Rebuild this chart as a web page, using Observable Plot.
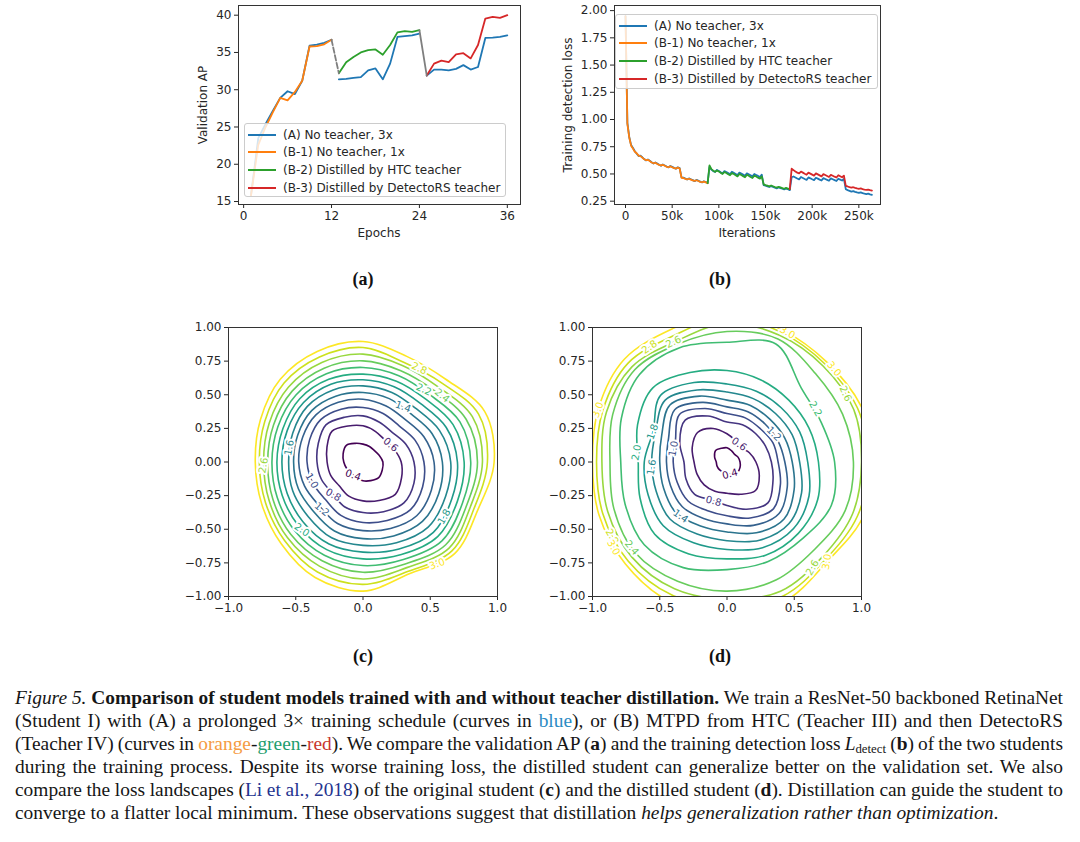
<!DOCTYPE html>
<html>
<head>
<meta charset="utf-8">
<script src="https://cdn.jsdelivr.net/npm/d3@7"></script>
<script src="https://cdn.jsdelivr.net/npm/@observablehq/plot@0.6"></script>
<style>
  html, body { margin: 0; padding: 0; background: #ffffff; }
  #page { position: relative; width: 1080px; height: 842px; overflow: hidden; background: #ffffff; }
  .panel { position: absolute; }
  .panel svg { display: block; }
  .axis-title { position: absolute; font: 12px "DejaVu Sans", sans-serif; color: #262626; white-space: nowrap; transform: translate(-50%, -50%); }
  .axis-title.vertical { transform: translate(-50%, -50%) rotate(-90deg); }
  .sub-label { position: absolute; font: bold 18px "Liberation Serif", serif; color: #111; transform: translate(-50%, -50%); white-space: nowrap; }
  .legend { position: absolute; box-sizing: border-box; border: 1px solid #cccccc; border-radius: 3px; background: rgba(255,255,255,0.8); }
  .legend .row { position: absolute; left: 0; height: 0; }
  .legend .swatch { position: absolute; left: 3px; width: 28px; height: 2px; top: -1px; }
  .legend .txt { position: absolute; left: 38px; top: -8px; font: 12px "DejaVu Sans", sans-serif; color: #262626; white-space: nowrap; line-height: 16px; }
  .caption { position: absolute; left: 15px; top: 686px; width: 1048px; font-family: "Liberation Serif", "Times New Roman", serif; font-size: 19.4px; line-height: 23px; color: #161616; }
  .cap-line { height: 23px; white-space: nowrap; }
  .cap-line > span { display: inline-block; white-space: nowrap; }
  .c-blue { color: #2b8cc4; } .c-orange { color: #f59b42; } .c-green { color: #1f9e6e; } .c-red { color: #c8362f; } .c-navy { color: #24338f; }
</style>
</head>
<body>
<div id="page">
  <div id="figA" class="panel" style="left:190px; top:0px; width:340px; height:250px"></div>
  <div id="figB" class="panel" style="left:560px; top:0px; width:330px; height:250px"></div>
  <div id="figC" class="panel" style="left:180px; top:300px; width:330px; height:330px"></div>
  <div id="figD" class="panel" style="left:544px; top:300px; width:330px; height:330px"></div>

  <div class="axis-title vertical" style="left:203px; top:104.5px">Validation AP</div>
  <div class="axis-title" style="left:379px; top:233px">Epochs</div>
  <div class="axis-title vertical" style="left:567.5px; top:104.5px">Training detection loss</div>
  <div class="axis-title" style="left:747px; top:233px">Iterations</div>

  <div id="legendA" class="legend" style="left:244px; top:123px; width:262px; height:74px"></div>
  <div id="legendB" class="legend" style="left:615px; top:14px; width:263px; height:75px"></div>

  <div class="sub-label" style="left:363px; top:279px">(a)</div>
  <div class="sub-label" style="left:720px; top:279px">(b)</div>
  <div class="sub-label" style="left:363px; top:656px">(c)</div>
  <div class="sub-label" style="left:720px; top:656px">(d)</div>

  <div class="caption">
    <div class="cap-line just"><span><i>Figure 5.</i> <b>Comparison of student models trained with and without teacher distillation.</b> We train a ResNet-50 backboned RetinaNet</span></div>
    <div class="cap-line just"><span>(Student I) with (A) a prolonged 3× training schedule (curves in <span class="c-blue">blue</span>), or (B) MTPD from HTC (Teacher III) and then DetectoRS</span></div>
    <div class="cap-line just"><span>(Teacher IV) (curves in <span class="c-orange">orange</span>-<span class="c-green">green</span>-<span class="c-red">red</span>). We compare the validation AP (<b>a</b>) and the training detection loss <i>L</i><sub style="font-size:0.66em; line-height:0; vertical-align:-0.22em">detect</sub> (<b>b</b>) of the two students</span></div>
    <div class="cap-line just"><span>during the training process. Despite its worse training loss, the distilled student can generalize better on the validation set. We also</span></div>
    <div class="cap-line just"><span>compare the loss landscapes (<span class="c-navy">Li et al., 2018</span>) of the original student (<b>c</b>) and the distilled student (<b>d</b>). Distillation can guide the student to</span></div>
    <div class="cap-line"><span>converge to a flatter local minimum. These observations suggest that distillation <i>helps generalization rather than optimization</i>.</span></div>
  </div>
</div>

<script>
// ---------------- (a) validation AP per epoch ----------------
const epochsAll = [1,2,3,4,5,6,7,8,9,10,11,12,13,14,15,16,17,18,19,20,21,22,23,24,25,26,27,28,29,30,31,32,33,34,35,36];
const epochsB1 = [1,2,3,4,5,6,7,8,9,10,11,12];
const epochsB2 = [13,14,15,16,17,18,19,20,21,22,23,24];
const epochsB3 = [25,26,27,28,29,30,31,32,33,34,35,36];
const apA  = [15.8,23.5,25.4,27.2,28.9,29.8,29.4,31.2,35.9,36.05,36.3,36.7,
              31.4,31.45,31.6,31.7,32.6,32.85,31.4,33.5,37.08,37.2,37.3,37.53,
              31.9,32.7,32.7,32.6,32.8,33.3,32.7,33.05,36.95,37.0,37.08,37.3];
const apB1 = [15.8,22.6,25.0,27.0,28.9,28.56,29.7,31.2,35.8,35.85,36.1,36.7];
const apB2 = [32.2,33.7,34.4,35.0,35.3,35.4,34.7,36.0,37.7,37.85,37.75,37.98];
const apB3 = [31.9,33.5,33.9,33.7,34.75,34.9,34.2,36.0,39.55,39.78,39.64,40.0];
const epochTicks = [0, 12, 24, 36];
const apTicks = [15, 20, 25, 30, 35, 40];

// ---------------- (b) training detection loss, logged every 2k iterations ----------------
const lossStepK = 2;
const lossStartK = {A: 0, B1: 0, B2: 88, B3: 176};
const lossA = [
  1.95,0.97,0.84,0.765,0.738,0.708,0.686,0.665,0.668,0.653,
  0.637,0.624,0.633,0.621,0.607,0.596,0.606,0.596,0.585,0.575,
  0.587,0.578,0.568,0.56,0.573,0.565,0.556,0.548,0.561,0.553,
  0.468,0.467,0.458,0.449,0.459,0.451,0.443,0.434,0.445,0.438,
  0.43,0.422,0.433,0.426,0.417,0.565,0.54,0.526,0.518,0.537,
  0.527,0.515,0.506,0.526,0.518,0.508,0.498,0.52,0.51,0.5,
  0.49,0.512,0.503,0.494,0.484,0.506,0.497,0.488,0.478,0.5,
  0.491,0.482,0.472,0.494,0.398,0.392,0.386,0.38,0.388,0.381,
  0.374,0.368,0.376,0.37,0.364,0.358,0.366,0.36,0.352,0.47,
  0.477,0.468,0.458,0.45,0.472,0.463,0.454,0.446,0.468,0.46,
  0.451,0.443,0.465,0.457,0.448,0.44,0.462,0.454,0.446,0.438,
  0.459,0.451,0.443,0.435,0.456,0.448,0.44,0.455,
  0.36,0.352,0.345,0.338,0.343,0.336,0.33,0.326,0.331,0.324,0.319,0.315,0.319,0.313,0.309];
const lossB1 = [
  1.95,0.96,0.835,0.76,0.733,0.704,0.69,0.668,0.664,0.65,
  0.635,0.627,0.63,0.618,0.605,0.598,0.603,0.592,0.583,0.578,
  0.584,0.575,0.566,0.562,0.57,0.562,0.553,0.55,0.558,0.55,
  0.465,0.463,0.455,0.451,0.456,0.448,0.44,0.436,0.442,0.435,
  0.428,0.424,0.43,0.423,0.415];
const lossB2 = [
  0.415,0.578,0.545,0.53,0.52,0.532,0.522,0.51,0.5,0.518,
  0.509,0.498,0.488,0.508,0.499,0.488,0.478,0.5,0.49,0.48,
  0.47,0.492,0.483,0.472,0.463,0.485,0.476,0.466,0.457,0.478,
  0.405,0.398,0.392,0.386,0.394,0.387,0.38,0.374,0.382,0.376,
  0.37,0.364,0.372,0.366,0.36];
const lossB3 = [
  0.36,0.548,0.535,0.522,0.512,0.505,0.522,0.512,0.502,0.493,
  0.512,0.503,0.494,0.485,0.505,0.496,0.487,0.478,0.498,0.49,
  0.481,0.472,0.492,0.484,0.475,0.467,0.488,0.479,0.47,0.485,
  0.39,0.385,0.379,0.374,0.378,0.372,0.367,0.364,0.367,0.361,
  0.357,0.354,0.356,0.351,0.347];
const iterTicksK = [0, 50, 100, 150, 200, 250];
const lossTicks = [0.25, 0.5, 0.75, 1.0, 1.25, 1.5, 1.75, 2.0];

// ---------------- (c)/(d) loss landscapes: contour radius per level along rays from the minimum ----------------
const contourLevels = [0.4,0.6,0.8,1.0,1.2,1.4,1.6,1.8,2.0,2.2,2.4,2.6,2.8,3.0];
const contourAngles = [0,22.5,45,67.5,90,112.5,135,157.5,180,202.5,225,247.5,270,292.5,315,337.5];
// rows: one per angle, columns: one per level
const radiiOriginal = [
  [0.148,0.284,0.379,0.453,0.528,0.59,0.652,0.702,0.752,0.801,0.851,0.888,0.925,0.975],
  [0.13,0.25,0.345,0.42,0.49,0.555,0.615,0.67,0.725,0.78,0.83,0.88,0.93,0.98],
  [0.12,0.23,0.31,0.38,0.445,0.505,0.56,0.61,0.66,0.705,0.75,0.79,0.83,0.87],
  [0.125,0.245,0.32,0.39,0.45,0.51,0.56,0.605,0.65,0.695,0.735,0.775,0.80,0.85],
  [0.133,0.269,0.343,0.405,0.467,0.517,0.566,0.611,0.653,0.703,0.752,0.802,0.851,0.896],
  [0.15,0.29,0.36,0.425,0.48,0.53,0.58,0.625,0.665,0.71,0.755,0.80,0.845,0.89],
  [0.175,0.325,0.39,0.445,0.495,0.54,0.585,0.625,0.665,0.705,0.745,0.785,0.83,0.87],
  [0.16,0.29,0.36,0.43,0.485,0.525,0.565,0.61,0.645,0.685,0.72,0.755,0.79,0.825],
  [0.143,0.267,0.342,0.416,0.478,0.516,0.553,0.603,0.64,0.677,0.709,0.739,0.771,0.801],
  [0.13,0.26,0.335,0.405,0.47,0.52,0.565,0.61,0.65,0.69,0.725,0.755,0.785,0.815],
  [0.12,0.25,0.325,0.395,0.46,0.52,0.575,0.63,0.675,0.72,0.76,0.795,0.825,0.86],
  [0.13,0.275,0.36,0.43,0.495,0.555,0.61,0.66,0.705,0.75,0.795,0.84,0.885,0.93],
  [0.14,0.289,0.376,0.45,0.51,0.57,0.62,0.67,0.72,0.77,0.82,0.87,0.91,0.96],
  [0.15,0.31,0.40,0.47,0.535,0.595,0.65,0.70,0.745,0.785,0.82,0.85,0.88,0.90],
  [0.165,0.34,0.43,0.50,0.565,0.625,0.685,0.74,0.785,0.83,0.87,0.905,0.935,0.963],
  [0.155,0.31,0.41,0.48,0.55,0.61,0.665,0.715,0.76,0.80,0.835,0.865,0.895,0.925]];
const radiiDistilled = [
  [0.097,0.215,0.33,0.38,0.43,0.485,0.54,0.60,0.68,0.80,0.94,1.0,1.05,1.1],
  [0.09,0.18,0.31,0.37,0.41,0.465,0.525,0.585,0.66,0.76,0.93,1.02,1.05,1.08],
  [0.08,0.15,0.30,0.35,0.40,0.45,0.51,0.57,0.65,0.78,0.93,1.01,1.03,1.05],
  [0.09,0.17,0.30,0.355,0.405,0.455,0.51,0.57,0.66,0.95,0.99,1.02,1.045,1.065],
  [0.106,0.21,0.297,0.36,0.41,0.46,0.52,0.58,0.68,0.89,0.97,1.03,1.08,1.12],
  [0.11,0.27,0.37,0.43,0.48,0.53,0.58,0.64,0.72,0.92,0.95,0.975,1.02,1.07],
  [0.12,0.31,0.44,0.50,0.55,0.60,0.65,0.70,0.78,0.92,0.97,1.0,1.04,1.08],
  [0.10,0.28,0.38,0.415,0.47,0.525,0.575,0.595,0.72,0.85,0.92,0.97,1.0,1.035],
  [0.08,0.245,0.32,0.40,0.45,0.50,0.56,0.615,0.66,0.79,0.87,0.93,0.97,1.0],
  [0.08,0.24,0.33,0.40,0.455,0.51,0.57,0.635,0.70,0.82,0.91,0.96,1.0,1.03],
  [0.08,0.24,0.34,0.41,0.47,0.535,0.60,0.67,0.76,0.87,0.96,1.0,1.04,1.07],
  [0.08,0.235,0.305,0.39,0.455,0.515,0.58,0.65,0.74,0.85,0.96,1.02,1.07,1.12],
  [0.088,0.232,0.324,0.40,0.46,0.52,0.585,0.65,0.72,0.80,0.96,1.02,1.07,1.12],
  [0.095,0.26,0.38,0.45,0.51,0.57,0.63,0.69,0.75,0.80,0.95,1.04,1.08,1.12],
  [0.11,0.30,0.43,0.49,0.545,0.60,0.65,0.70,0.75,0.80,0.92,1.0,1.03,1.05],
  [0.105,0.26,0.37,0.43,0.485,0.54,0.60,0.66,0.73,0.84,0.95,1.01,1.05,1.09]];
// inline contour labels: [level, direction (deg), text rotation (deg)]
const labelsOriginal = [
  [0.4,233,20],[0.6,32,40],[0.8,228,30],[1.0,200,60],[1.2,229,40],[1.4,54,20],[1.6,169,-80],
  [1.8,326,-60],[2.0,228,35],[2.2,50,25],[2.4,40,40],[2.6,182,-80],[2.8,59,25],[3.0,306,-20]];
const labelsDistilled = [
  [0.4,284,-15],[0.6,56,35],[0.8,251,15],[1.0,166,-80],[1.2,31,45],[1.4,229.5,35],[1.6,184,-80],
  [1.8,158,-70],[2.0,174,-80],[2.2,31,60],[2.4,222,50],[2.6,114,-25],[2.8,124,-35],[3.0,158,-70],
  [2.8,213,60],[3.0,217,60],[2.6,30,65],[3.0,41,50],[2.6,309,-60],[3.0,315,-80],[3.0,65,30]];

const seriesNames = ["(A) No teacher, 3x", "(B-1) No teacher, 1x", "(B-2) Distilled by HTC teacher", "(B-3) Distilled by DetectoRS teacher"];

// ---------------- styling ----------------
const TAB = {blue: "#1f77b4", orange: "#ff7f0e", green: "#2ca02c", red: "#d62728", gray: "#7f7f7f"};
const seriesColors = [TAB.blue, TAB.orange, TAB.green, TAB.red];
const axisStyle = {fontFamily: "'DejaVu Sans', sans-serif", fontSize: "12px", color: "#262626", background: "transparent", overflow: "visible"};
const LW = 1.8;

// ---------- (a) ----------
const rowsA = epochsAll.map((e, i) => ({epoch: e, ap: apA[i], stage: e <= 12 ? 1 : e <= 24 ? 2 : 3}));
const rowsB1 = epochsB1.map((e, i) => ({epoch: e, ap: apB1[i]}));
const rowsB2 = epochsB2.map((e, i) => ({epoch: e, ap: apB2[i]}));
const rowsB3 = epochsB3.map((e, i) => ({epoch: e, ap: apB3[i]}));
const linkB1B2 = [rowsB1[rowsB1.length - 1], rowsB2[0]];
const linkB2B3 = [rowsB2[rowsB2.length - 1], rowsB3[0]];

const figA = Plot.plot({
  width: 340, height: 250,
  marginLeft: 48, marginRight: 10, marginTop: 5, marginBottom: 46,
  style: axisStyle,
  x: {domain: [-0.7, 37.8], ticks: epochTicks, tickSize: 4, tickPadding: 3, label: null},
  y: {domain: [14.6, 41.3], ticks: apTicks, tickSize: 4, tickPadding: 3, label: null},
  marks: [
    Plot.line(rowsA, {x: "epoch", y: "ap", z: "stage", stroke: TAB.blue, strokeWidth: LW}),
    Plot.line(rowsB1, {x: "epoch", y: "ap", stroke: TAB.orange, strokeWidth: LW}),
    Plot.line(rowsB2, {x: "epoch", y: "ap", stroke: TAB.green, strokeWidth: LW}),
    Plot.line(rowsB3, {x: "epoch", y: "ap", stroke: TAB.red, strokeWidth: LW}),
    Plot.line(linkB1B2, {x: "epoch", y: "ap", stroke: TAB.gray, strokeWidth: LW, strokeDasharray: "5.5,2.4"}),
    Plot.line(linkB2B3, {x: "epoch", y: "ap", stroke: TAB.gray, strokeWidth: LW}),
    Plot.frame({stroke: "#333", strokeWidth: 1})
  ]
});
document.getElementById("figA").append(figA);

// ---------- (b) ----------
const lossRows = (values, startK) => values.map((v, i) => ({iter: startK + i * lossStepK, loss: v}));
const figB = Plot.plot({
  width: 330, height: 250,
  marginLeft: 54, marginRight: 10, marginTop: 5, marginBottom: 46,
  style: axisStyle,
  x: {domain: [-11.8, 273.2], ticks: iterTicksK, tickFormat: d => d === 0 ? "0" : d + "k", tickSize: 4, tickPadding: 3, label: null},
  y: {domain: [0.2195, 2.047], ticks: lossTicks, tickFormat: d3.format(".2f"), tickSize: 4, tickPadding: 3, label: null},
  marks: [
    Plot.line(lossRows(lossA, lossStartK.A), {x: "iter", y: "loss", stroke: TAB.blue, strokeWidth: LW}),
    Plot.line(lossRows(lossB1, lossStartK.B1), {x: "iter", y: "loss", stroke: TAB.orange, strokeWidth: LW}),
    Plot.line(lossRows(lossB2, lossStartK.B2), {x: "iter", y: "loss", stroke: TAB.green, strokeWidth: LW}),
    Plot.line(lossRows(lossB3, lossStartK.B3), {x: "iter", y: "loss", stroke: TAB.red, strokeWidth: LW}),
    Plot.frame({stroke: "#333", strokeWidth: 1})
  ]
});
document.getElementById("figB").append(figB);

// ---------- legends ----------
function buildLegend(id) {
  const box = document.getElementById(id);
  seriesNames.forEach((name, i) => {
    const row = document.createElement("div");
    row.className = "row";
    row.style.top = (10.5 + i * 17.7) + "px";
    row.innerHTML = `<div class="swatch" style="background:${seriesColors[i]}"></div><div class="txt">${name}</div>`;
    box.append(row);
  });
}
buildLegend("legendA");
buildLegend("legendB");

// ---------- (c) / (d) ----------
function contourRows(radii) {
  const rows = [];
  contourLevels.forEach((level, li) => {
    contourAngles.forEach((deg, ai) => {
      const r = radii[ai][li], t = deg * Math.PI / 180;
      rows.push({level, x: r * Math.cos(t), y: r * Math.sin(t)});
    });
  });
  return rows;
}
function radiusAt(radii, li, deg) {
  const n = contourAngles.length, step = 360 / n;
  const a = ((deg % 360) + 360) % 360;
  const i0 = Math.floor(a / step) % n, i1 = (i0 + 1) % n, f = (a - i0 * step) / step;
  return radii[i0][li] * (1 - f) + radii[i1][li] * f;
}
function labelRows(radii, labels) {
  return labels.map(([level, deg, rot]) => {
    const li = contourLevels.indexOf(level);
    const r = radiusAt(radii, li, deg), t = deg * Math.PI / 180;
    return {level, x: r * Math.cos(t), y: r * Math.sin(t), text: level.toFixed(1), rotate: rot};
  });
}
function landscape(radii, labels) {
  return Plot.plot({
    width: 330, height: 330,
    marginLeft: 48, marginRight: 13, marginTop: 27, marginBottom: 34,
    style: axisStyle,
    x: {domain: [-1, 1], ticks: [-1, -0.5, 0, 0.5, 1], tickFormat: d3.format(".1f"), tickSize: 4, tickPadding: 3, label: null},
    y: {domain: [-1, 1], ticks: [-1, -0.75, -0.5, -0.25, 0, 0.25, 0.5, 0.75, 1], tickFormat: d3.format(".2f"), tickSize: 4, tickPadding: 3, label: null},
    color: {type: "linear", scheme: "viridis", domain: [0.4, 3.0]},
    marks: [
      Plot.line(contourRows(radii), {x: "x", y: "y", z: "level", stroke: "level", strokeWidth: 1.6, curve: "catmull-rom-closed", clip: true}),
      Plot.text(labelRows(radii, labels), {x: "x", y: "y", text: "text", rotate: "rotate", fill: "level", stroke: "white", strokeWidth: 4, paintOrder: "stroke", fontSize: 10, clip: true}),
      Plot.frame({stroke: "#333", strokeWidth: 1})
    ]
  });
}
document.getElementById("figC").append(landscape(radiiOriginal, labelsOriginal));
document.getElementById("figD").append(landscape(radiiDistilled, labelsDistilled));

// ---------- caption: justify each line to the column width ----------
function justifyCaption() {
  document.querySelectorAll(".cap-line.just > span").forEach(span => {
    span.style.wordSpacing = "0px";
    const natural = span.getBoundingClientRect().width;
    const spaces = (span.textContent.match(/ /g) || []).length;
    if (spaces) span.style.wordSpacing = ((1048 - natural) / spaces) + "px";
  });
}
justifyCaption();
if (document.fonts && document.fonts.ready) document.fonts.ready.then(justifyCaption);
</script>
</body>
</html>
